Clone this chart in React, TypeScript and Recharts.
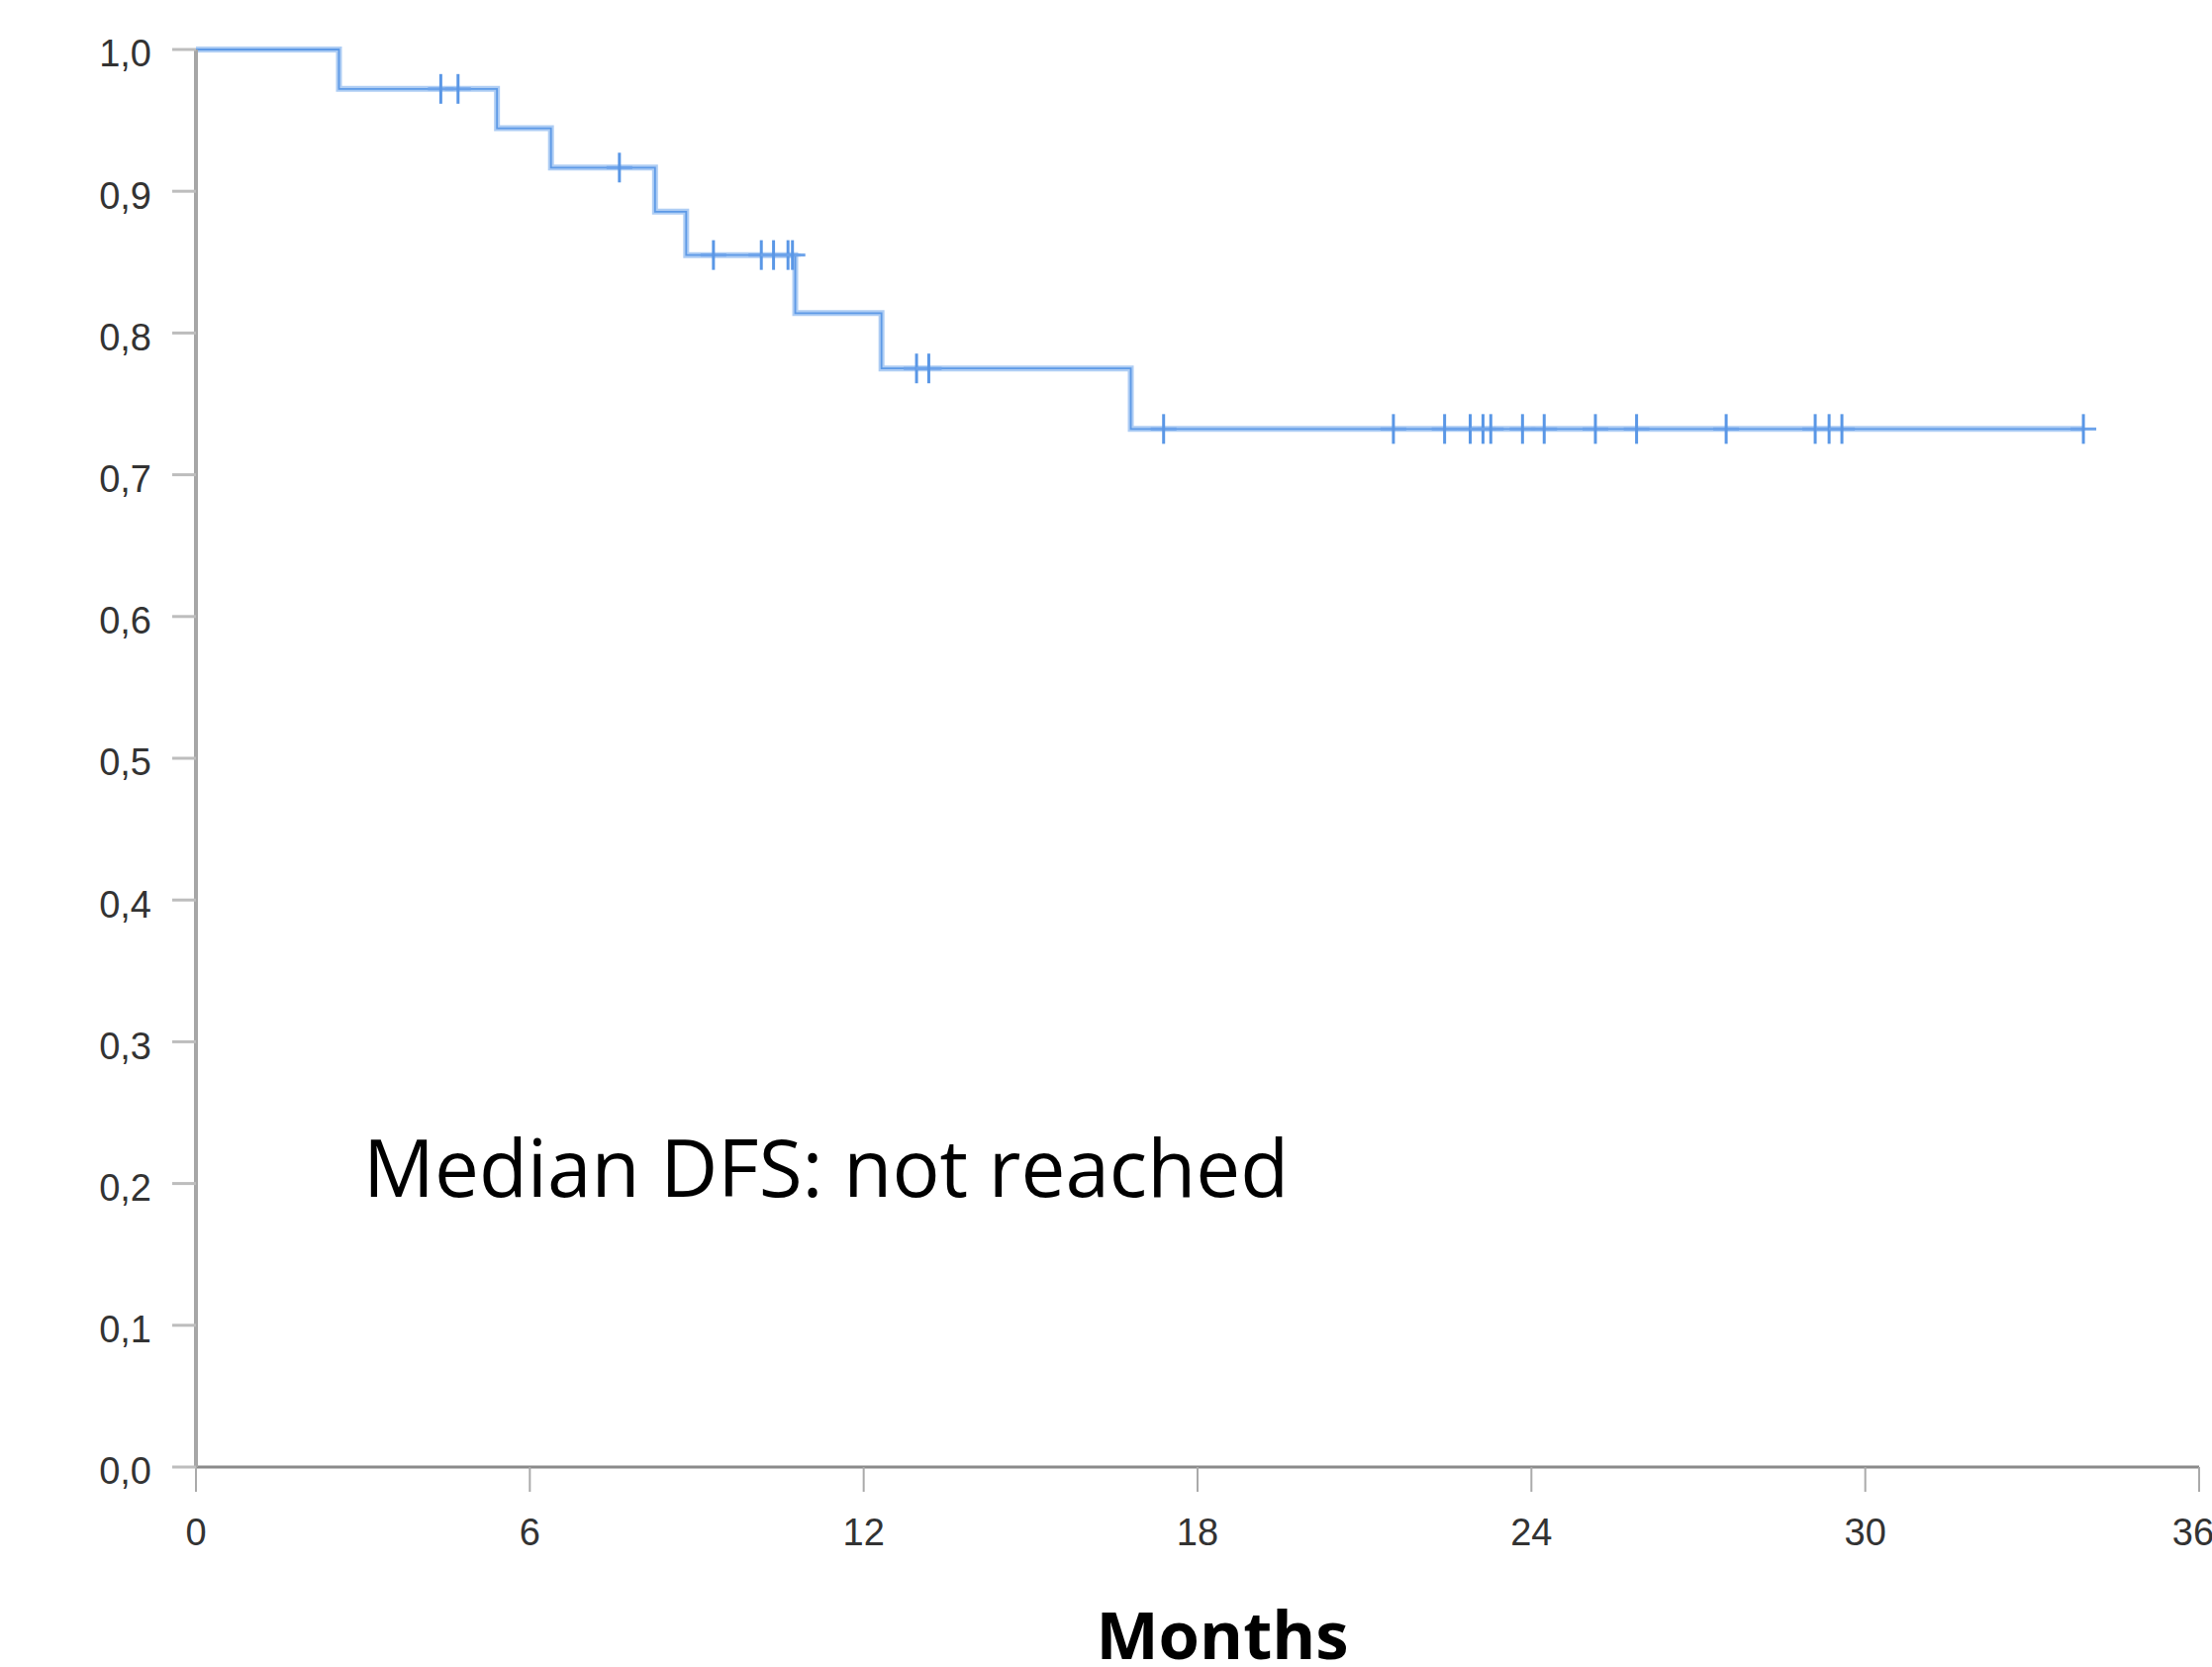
import { ComposedChart, Line, Scatter, XAxis, YAxis } from 'recharts'

// Kaplan-Meier step points (months, survival)
const steps = [
  { t: 0, s: 1.0 },
  { t: 2.57, s: 0.9722 },
  { t: 5.41, s: 0.9444 },
  { t: 6.38, s: 0.9167 },
  { t: 8.25, s: 0.8856 },
  { t: 8.81, s: 0.855 },
  { t: 10.77, s: 0.814 },
  { t: 12.32, s: 0.775 },
  { t: 16.8, s: 0.7323 },
  { t: 33.92, s: 0.7323 },
]

// censored observations
const censored = [
  { t: 4.4, s: 0.9722 },
  { t: 4.71, s: 0.9722 },
  { t: 7.61, s: 0.9167 },
  { t: 9.3, s: 0.855 },
  { t: 10.16, s: 0.855 },
  { t: 10.38, s: 0.855 },
  { t: 10.64, s: 0.855 },
  { t: 10.72, s: 0.855 },
  { t: 12.95, s: 0.775 },
  { t: 13.17, s: 0.775 },
  { t: 17.39, s: 0.7323 },
  { t: 21.52, s: 0.7323 },
  { t: 22.44, s: 0.7323 },
  { t: 22.9, s: 0.7323 },
  { t: 23.13, s: 0.7323 },
  { t: 23.27, s: 0.7323 },
  { t: 23.84, s: 0.7323 },
  { t: 24.23, s: 0.7323 },
  { t: 25.15, s: 0.7323 },
  { t: 25.89, s: 0.7323 },
  { t: 27.5, s: 0.7323 },
  { t: 29.1, s: 0.7323 },
  { t: 29.35, s: 0.7323 },
  { t: 29.58, s: 0.7323 },
  { t: 33.92, s: 0.7323 },
]

const xTicks = [0, 6, 12, 18, 24, 30, 36]
const yTicks = [0, 0.1, 0.2, 0.3, 0.4, 0.5, 0.6, 0.7, 0.8, 0.9, 1.0]

const comma = (v: number) => v.toFixed(1).replace('.', ',')

const tickFont = { fontSize: 38, fill: '#333', fontFamily: 'Liberation Sans, Arial, sans-serif' }

function CensorMark(props: any) {
  const { cx, cy } = props
  if (cx == null || cy == null) return null
  return (
    <g>
      <line x1={cx - 13} x2={cx + 13} y1={cy} y2={cy} stroke="#6da3ea" strokeWidth={3} />
      <line x1={cx} x2={cx} y1={cy - 15} y2={cy + 15} stroke="#5a97e6" strokeWidth={3} />
    </g>
  )
}

export default function App() {
  return (
    <div style={{ position: 'absolute', left: 0, top: 0, background: '#fff' }}>
      <ComposedChart width={2235} height={1684} margin={{ top: 50, right: 13, bottom: 0, left: 0 }}>
        <XAxis
          dataKey="t"
          type="number"
          domain={[0, 36]}
          ticks={xTicks}
          height={202}
          tick={tickFont}
          tickSize={25}
          tickMargin={27}
          axisLine={{ stroke: '#8a8a8a', strokeWidth: 3 }}
          tickLine={{ stroke: '#aaa', strokeWidth: 2 }}
          allowDataOverflow
        />
        <YAxis
          type="number"
          domain={[0, 1]}
          ticks={yTicks}
          width={198}
          tickFormatter={comma}
          tick={{ ...tickFont, dy: 4 }}
          tickSize={24}
          tickMargin={21}
          axisLine={{ stroke: '#a6a6a6', strokeWidth: 4 }}
          tickLine={{ stroke: '#bdbdbd', strokeWidth: 3 }}
        />
        <Line
          data={steps}
          dataKey="s"
          type="stepAfter"
          stroke="#aecdf4"
          strokeWidth={6}
          dot={false}
          activeDot={false}
          isAnimationActive={false}
        />
        <Line
          data={steps}
          dataKey="s"
          type="stepAfter"
          stroke="#5e9ae6"
          strokeWidth={1.8}
          dot={false}
          activeDot={false}
          isAnimationActive={false}
        />
        <Scatter data={censored} dataKey="s" shape={<CensorMark />} isAnimationActive={false} />
        <text x={367} y={1209} fontSize={80} fontFamily="Open Sans, sans-serif" fill="#000">
          Median DFS: not reached
        </text>
        <text
          x={1235}
          y={1676}
          textAnchor="middle"
          fontSize={67}
          fontWeight="bold"
          fontFamily="Open Sans, sans-serif"
          fill="#000"
        >
          Months
        </text>
      </ComposedChart>
    </div>
  )
}
